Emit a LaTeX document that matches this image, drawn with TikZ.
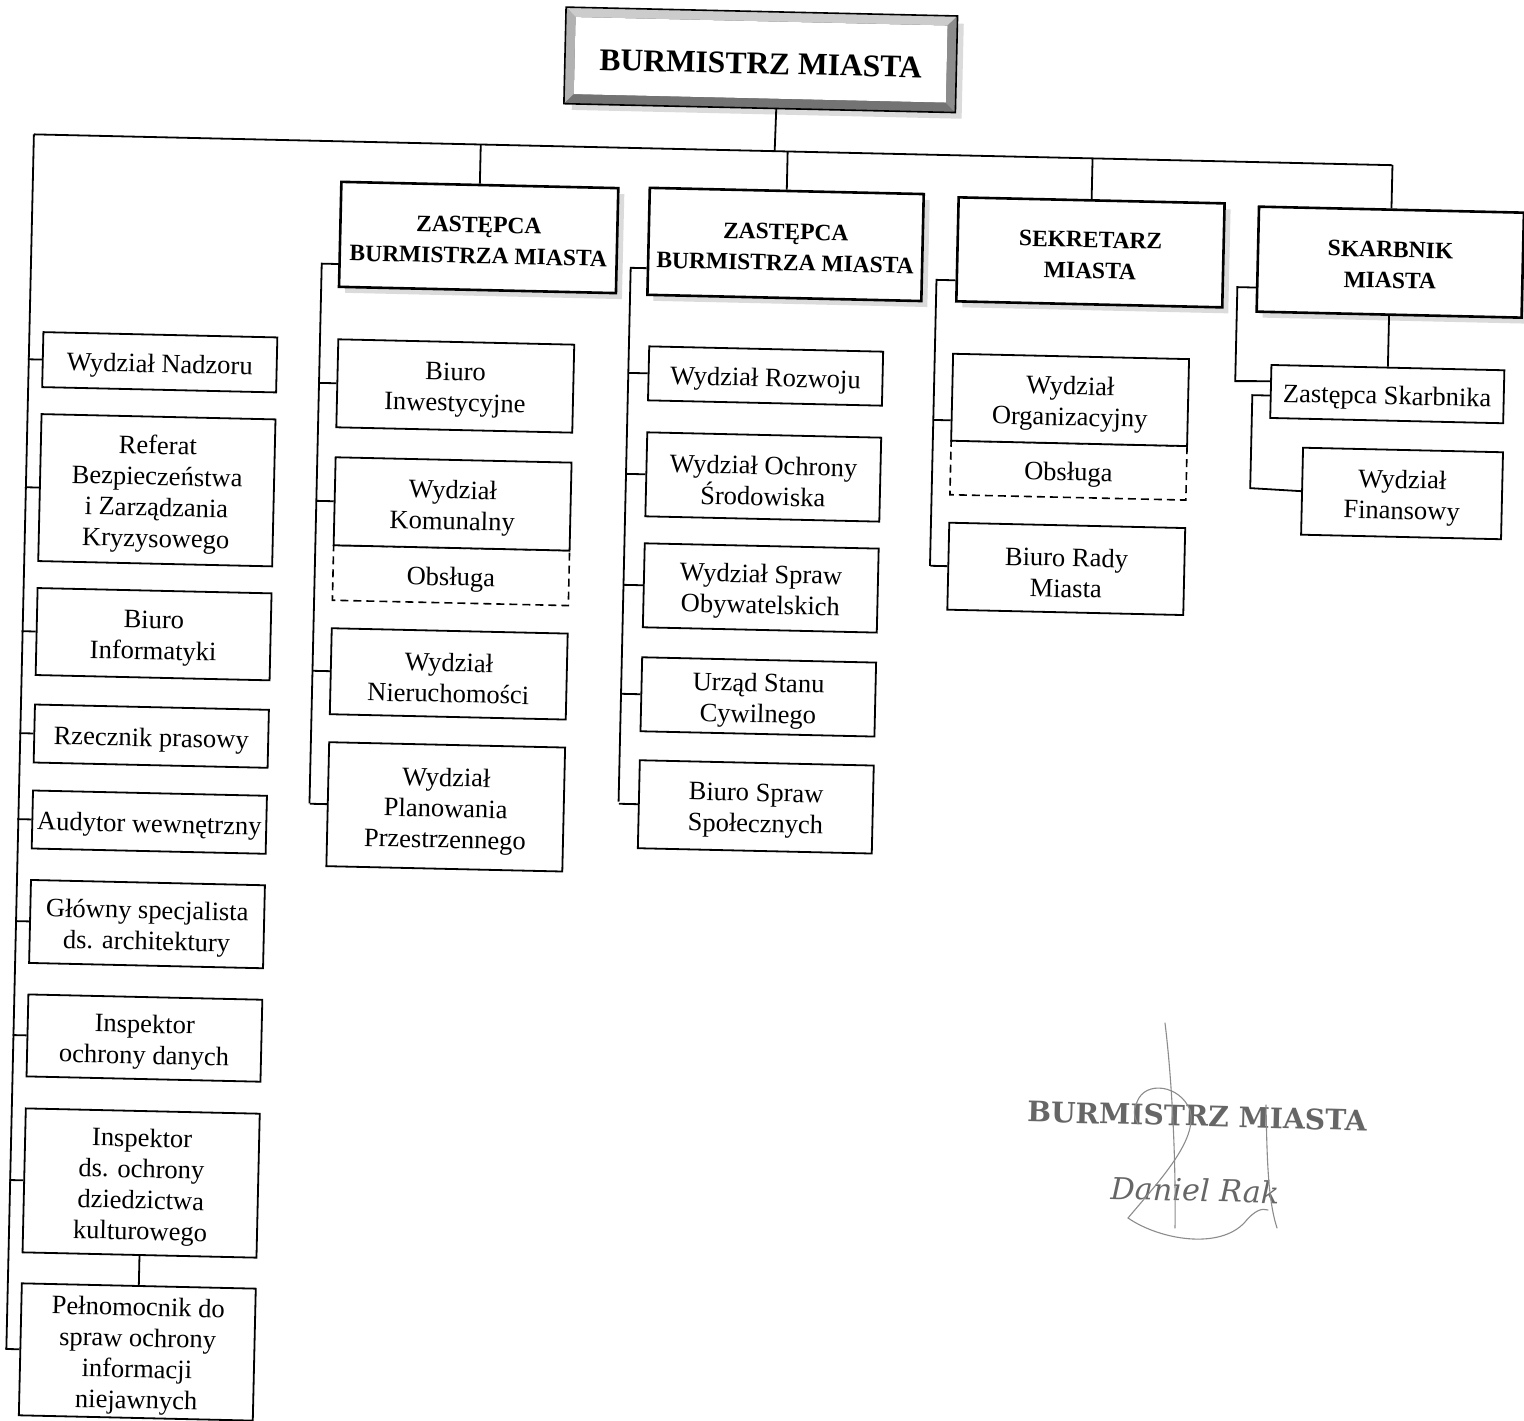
\documentclass[tikz,border=0pt]{standalone}
\usepackage{fontspec}
\setmainfont{Liberation Serif}
\newfontfamily\stampfont{DejaVu Serif}
\usetikzlibrary{shadows}
% box with its text set 4pt lower than the geometric centre
\newcommand\orgbox[6]{%
  \node[#1, minimum width=#2pt, minimum height=#3pt] (#4) at (#5) {};
  \node[txt] (#4t) at ([yshift=-4pt]#4.center) {#6};}
\newcommand\headbox[6]{%
  \node[head, minimum width=#2pt, minimum height=#3pt] (#4) at (#5) {};
  \node[#1] (#4t) at ([yshift=-3pt]#4.center) {#6};}
\begin{document}
\begin{tikzpicture}[x=1pt,y=-1pt,
  conn/.style={line width=1.8pt},
  box/.style={draw, line width=1.8pt, fill=white, inner sep=0pt},
  obsbox/.style={draw, line width=1.6pt, dash pattern=on 8pt off 5pt, inner sep=0pt},
  txt/.style={align=center, inner sep=0pt, font=\fontsize{26.5}{31}\selectfont},
  htxt/.style={align=center, inner sep=0pt, font=\fontsize{23.5}{31}\selectfont\bfseries},
  head/.style={draw, line width=2.6pt, fill=white, inner sep=0pt,
    drop shadow={shadow xshift=6pt, shadow yshift=-6pt, fill=black!28}},
  scrib/.style={draw=black!45, line width=1.1pt, line cap=round}]
\useasboundingbox (0,0) rectangle (1524,1421);
\fill[white] (0,0) rectangle (1524,1421);
\begin{scope}[rotate around={-1.3:(762,710)}, transform shape]
% ---- top box (bevelled) ----
\node[draw, line width=1.6pt, fill=black!45, minimum width=390pt, minimum height=95pt,
  drop shadow={shadow xshift=7pt, shadow yshift=-7pt, fill=black!28}] (bm) at (746,60) {};
\node[fill=white, minimum width=372pt, minimum height=77pt, inner sep=0pt] (bmi) at (746,60) {};
\fill[black!20] (bm.north west) -- (bm.north east) -- (bmi.north east) -- (bmi.north west) -- cycle;
\fill[black!30] (bm.north west) -- (bmi.north west) -- (bmi.south west) -- (bm.south west) -- cycle;
\fill[black!55] (bm.south west) -- (bmi.south west) -- (bmi.south east) -- (bm.south east) -- cycle;
\fill[black!45] (bm.north east) -- (bmi.north east) -- (bmi.south east) -- (bm.south east) -- cycle;
\draw[line width=1.6pt] (bm.north west) -- (bm.north east) -- (bm.south east) -- (bm.south west) -- cycle;
\node[font=\fontsize{31.5}{36}\selectfont\bfseries, inner sep=0pt] (bmt) at ([yshift=-4pt]bmi.center) {BURMISTRZ MIASTA};
% ---- bus ----
\coordinate (busL) at (21,151);
\coordinate (busR) at (1380,151);
\coordinate (d0) at (762,151);
\coordinate (d1) at (468,151);
\coordinate (d2) at (775,151);
\coordinate (d3) at (1080,151);
\draw[conn] (busL) -- (busR);
\draw[conn] (d0) -- (bm.-71.4);
% ---- headers ----
\headbox{htxt}{277}{105}{z1}{468,244}{ZASTĘPCA\\BURMISTRZA MIASTA}
\headbox{htxt}{274}{107}{z2}{775,244}{ZASTĘPCA\\BURMISTRZA MIASTA}
\headbox{htxt}{266}{104}{sek}{1080,245}{SEKRETARZ\\MIASTA}
\headbox{htxt}{265}{105}{skb}{1380,248}{SKARBNIK\\MIASTA}
\draw[conn] (d1) -- (z1.north);
\draw[conn] (d2) -- (z2.north);
\draw[conn] (d3) -- (sek.north);
\draw[conn] (busR) -- (skb.north);
% ---- column 1 ----
\orgbox{box}{234}{55}{nadz}{152,376}{Wydział Nadzoru}
\orgbox{box}{234}{147}{ref}{152,504}{Referat\\Bezpieczeństwa\\i Zarządzania\\Kryzysowego}
\orgbox{box}{234}{87}{inf}{152,648}{Biuro\\Informatyki}
\orgbox{box}{234}{58}{rzecz}{152,750}{Rzecznik prasowy}
\orgbox{box}{234}{58}{aud}{152,836}{Audytor wewnętrzny}
\orgbox{box}{234}{83}{arch}{152,938}{Główny specjalista\\ds. architektury}
\orgbox{box}{234}{82}{iod}{152,1052}{Inspektor\\ochrony danych}
\orgbox{box}{234}{144}{kult}{152,1197}{Inspektor\\ds. ochrony\\dziedzictwa\\kulturowego}
\orgbox{box}{234}{132}{pel}{152,1366}{Pełnomocnik do\\spraw ochrony\\informacji\\niejawnych}
\draw[conn] (busL) -- ++(0,1215);
\foreach \n in {nadz,ref,inf,rzecz,aud,arch,iod,kult,pel}
  \draw[conn] (\n.west) -- ++(-14,0);
\draw[conn] (kult.south) -- (pel.north);
% ---- column 2 ----
\orgbox{obsbox}{236}{55}{obs1}{448,582.5}{Obsługa}
\orgbox{box}{236}{88}{inw}{448,393}{Biuro\\Inwestycyjne}
\orgbox{box}{236}{88}{kom}{448,511}{Wydział\\Komunalny}
\orgbox{box}{236}{86}{nier}{448,681}{Wydział\\Nieruchomości}
\orgbox{box}{236}{124}{plan}{448,814}{Wydział\\Planowania\\Przestrzennego}
\draw[conn] (z1.192.2) -- ++(-16.5,0) -- ++(0,540);
\foreach \n in {inw,kom,nier,plan}
  \draw[conn] (\n.west) -- ++(-17,0);
% ---- column 3 ----
\orgbox{box}{234}{54}{rozw}{758,376}{Wydział Rozwoju}
\orgbox{box}{234}{84}{sro}{758,477}{Wydział Ochrony\\Środowiska}
\orgbox{box}{234}{84}{oby}{758,588}{Wydział Spraw\\Obywatelskich}
\orgbox{box}{234}{74}{usc}{758,697}{Urząd Stanu\\Cywilnego}
\orgbox{box}{234}{88}{spol}{758,807}{Biuro Spraw\\Społecznych}
\draw[conn] (z2.191.95) -- ++(-16,0) -- ++(0,534);
\foreach \n in {rozw,sro,oby,usc,spol}
  \draw[conn] (\n.west) -- ++(-19,0);
% ---- sekretarz ----
\orgbox{obsbox}{236}{54}{obs2}{1063,463.5}{Obsługa}
\orgbox{box}{236}{87}{org}{1063,393}{Wydział\\Organizacyjny}
\orgbox{box}{236}{87}{rady}{1063,562}{Biuro Rady\\Miasta}
\draw[conn] (sek.193.1) -- ++(-19,0) -- ++(0,286);
\draw[conn] (org.191.03) -- ++(-17,0);
\draw[conn] (rady.west) -- ++(-17,0);
% ---- skarbnik ----
\orgbox{box}{233}{53}{zs}{1380,380}{Zastępca Skarbnika}
\orgbox{box}{200}{87}{fin}{1397,479}{Wydział\\Finansowy}
\draw[conn] (skb.south) -- (zs.north);
\draw[conn] (skb.192.35) -- ++(-18.5,0) -- ++(0,94) -- (zs.175.58);
\draw[conn] (zs.182.95) -- ++(-17.5,0) -- ++(0,93) -- (fin.west);
\end{scope}
% ---- signature ----
\node[rotate=-1.5, text=black!60, font=\stampfont\bfseries\fontsize{28.2}{32}\selectfont] (st1) at (1197,1116) {BURMISTRZ MIASTA};
\node[rotate=-1.5, text=black!60, font=\stampfont\itshape\fontsize{30.3}{34}\selectfont] (st2) at (1195,1190) {Daniel Rak};
\draw[scrib] (1165,1023) .. controls (1172,1080) and (1176,1160) .. (1175,1228);
\draw[scrib] (1137,1102) .. controls (1145,1080) and (1180,1085) .. (1190,1110)
  .. controls (1198,1140) and (1160,1180) .. (1128,1218)
  .. controls (1160,1240) and (1220,1250) .. (1245,1222)
  .. controls (1255,1210) and (1262,1208) .. (1268,1210);
\draw[scrib] (1137,1102) .. controls (1133,1110) and (1134,1118) .. (1138,1124);
\draw[scrib] (1266,1105) .. controls (1267,1160) and (1268,1200) .. (1277,1228);
\end{tikzpicture}
\end{document}
